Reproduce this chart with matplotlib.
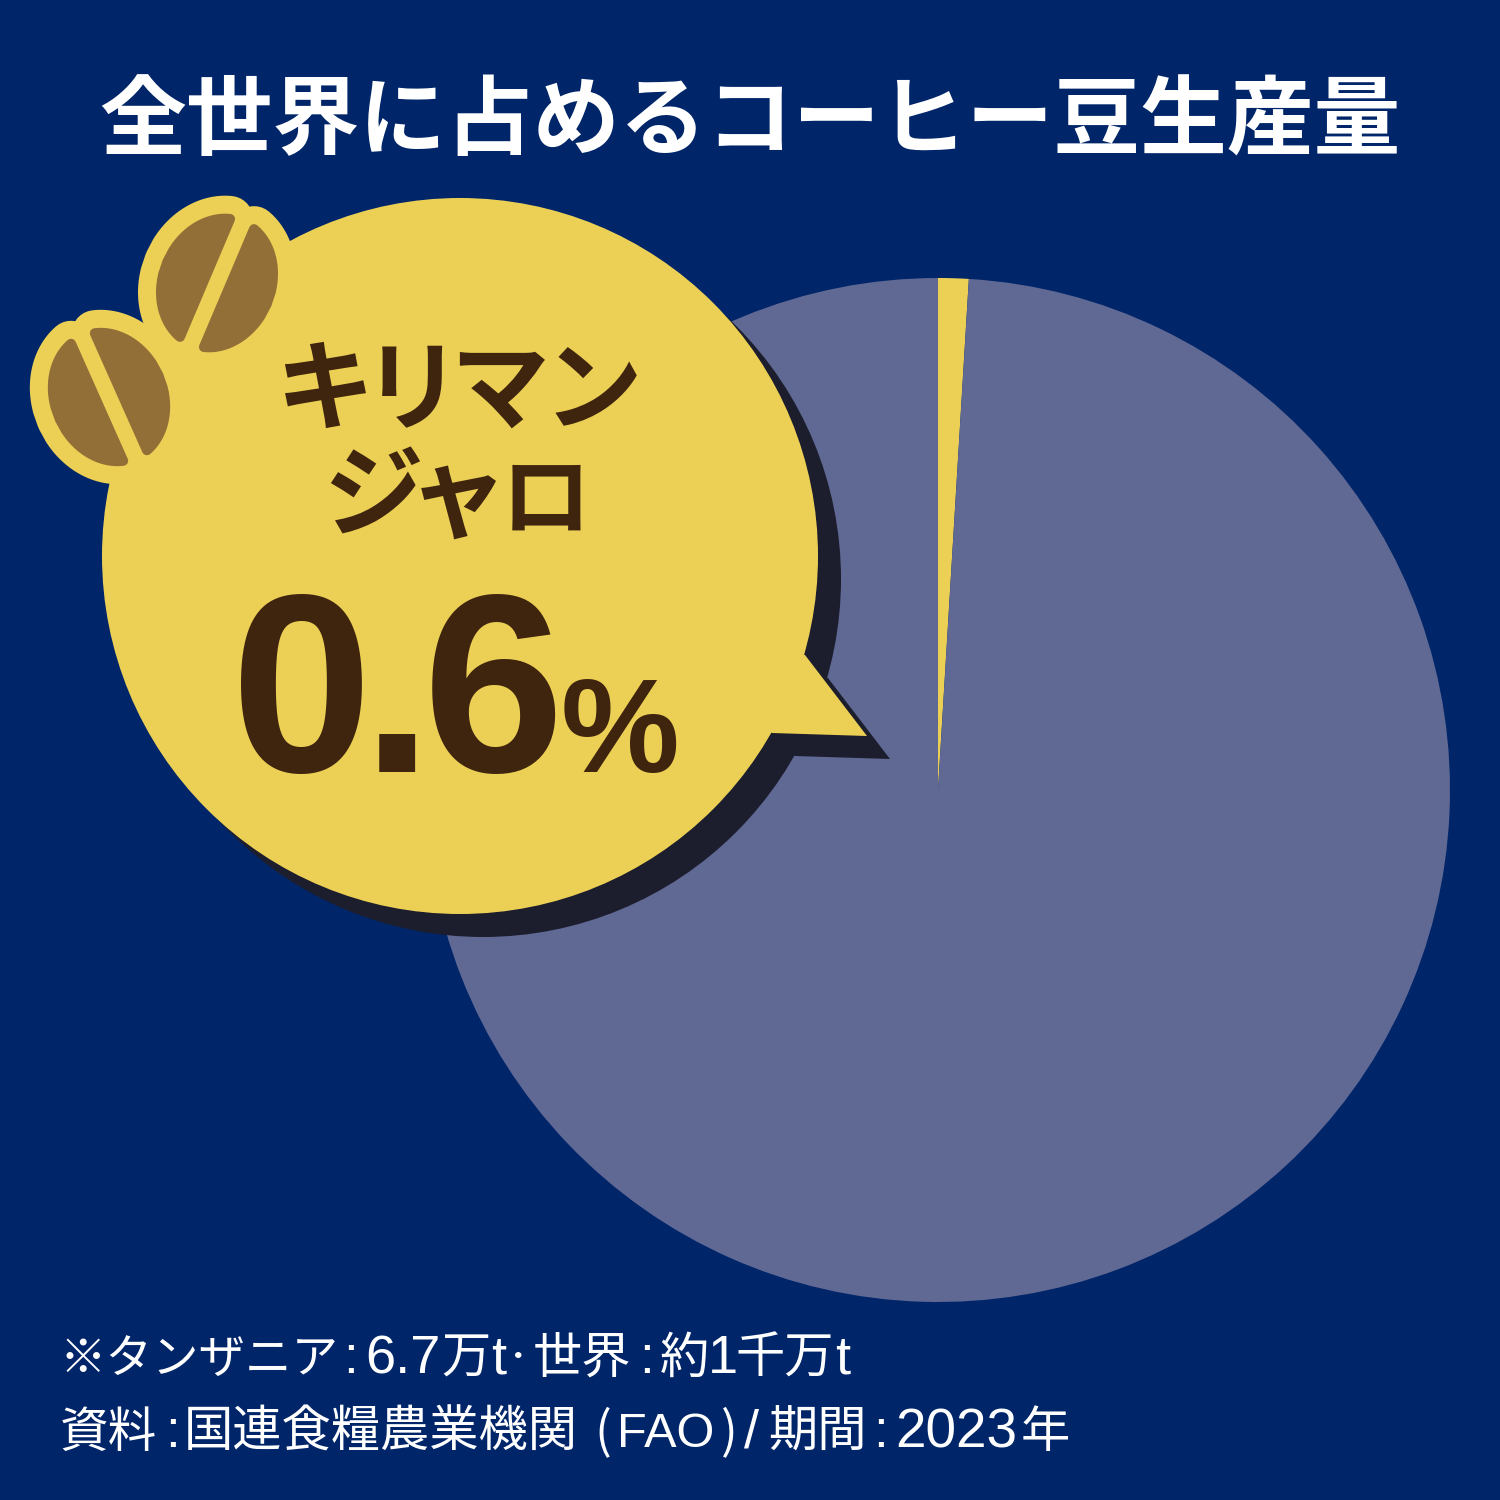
import numpy as np
import matplotlib
matplotlib.use("Agg")
import matplotlib.pyplot as plt
from matplotlib.patches import Circle, Polygon

plt.rcParams['font.family'] = ['Noto Sans CJK JP', 'DejaVu Sans']

BG = '#002569'
PIE_REST = '#606894'
YELLOW = '#ecd056'
SHADOW = '#1c1e2d'
TEXT_BROWN = '#40250e'
BEAN = '#936f38'
LATIN = 'Liberation Sans'
CJK = 'Noto Sans CJK JP'

# share of the circle as drawn in the picture, label says 0.6%
shares = [0.96, 99.04]
pie_colors = [YELLOW, PIE_REST]

title = '全世界に占めるコーヒー豆生産量'
# char, x centre, size
bubble_line1 = [('キ', 324, 71), ('リ', 412, 71), ('マ', 499, 71), ('ン', 593, 71)]
bubble_line2 = [('ジ', 373, 72), ('ャ', 458, 72), ('ロ', 546, 65)]
bubble_value = [('0', 302), ('.', 397), ('6', 493)]
bubble_unit = '%'

# text, x, font, size, anchor
note_line1 = [
    ('※タンザニア', 60, CJK, 33.5, 'left'), (':', 351, LATIN, 38, 'center'),
    ('6.7', 365, LATIN, 39, 'left'), ('万', 441, CJK, 35.5, 'left'), ('t', 491, LATIN, 39, 'left'),
    ('世界', 533, CJK, 35.5, 'left'), (':', 646, LATIN, 38, 'center'),
    ('約', 660, CJK, 35.5, 'left'), ('1', 708, LATIN, 39, 'left'), ('千万', 735, CJK, 35.5, 'left'),
    ('t', 835, LATIN, 39, 'left'),
]
note_dot = '・'
note_line2 = [
    ('資料', 60, CJK, 35, 'left'), (':', 172, LATIN, 38, 'center'),
    ('国連食糧農業機関', 184, CJK, 35.5, 'left'), ('(', 603, CJK, 36, 'center'),
    ('FAO', 617, LATIN, 35, 'left'), (')', 729, CJK, 36, 'center'), ('/', 752, LATIN, 39, 'center'),
    ('期間', 768, CJK, 35.5, 'left'), (':', 880, LATIN, 38, 'center'),
    ('2023', 895, LATIN, 39.5, 'left'), ('年', 1021, CJK, 35.5, 'left'),
]


def Y(py):
    return 1500 - py


def bubble(ax, dx, dy, color, z):
    # circle plus the tail towards the pie
    ax.add_patch(Circle((460 + dx, Y(556 + dy)), 358, fc=color, ec='none', zorder=z))
    tail = [(805 + dx, 655 + dy), (867 + dx, 736 + dy), (772 + dx, 733 + dy), (640 + dx, 600 + dy)]
    ax.add_patch(Polygon([(x, Y(y)) for x, y in tail], closed=True, fc=color, ec='none', zorder=z))


def bean(ax, cx, cy, tilt, z):
    # tilt in degrees, slit direction measured from vertical
    t = np.radians(tilt)
    ux, uy = np.sin(t), np.cos(t)
    vx, vy = np.cos(t), -np.sin(t)
    a, b = 71.0, 59.0
    r = 5.0
    gap = 8.0 + r

    for side in (1, -1):
        vs = np.linspace(gap, b - r, 40)
        us = (a - r) * np.sqrt(np.clip(1 - (vs / (b - r)) ** 2, 0, 1))
        half_u = np.concatenate([us, -us[::-1]])
        half_v = np.concatenate([vs, vs[::-1]]) * side
        pts = [(cx + u * ux + v * vx, Y(cy + u * uy + v * vy)) for u, v in zip(half_u, half_v)]
        # thick yellow stroke gives the outline with the small notches
        ax.add_patch(Polygon(pts, closed=True, fc=YELLOW, ec=YELLOW, lw=2 * (r + 18) * 0.72,
                             joinstyle='round', zorder=z))
        ax.add_patch(Polygon(pts, closed=True, fc=BEAN, ec=BEAN, lw=2 * r * 0.72,
                             joinstyle='round', zorder=z + 1))


fig = plt.figure(figsize=(15, 15), dpi=100, facecolor=BG)
ax = fig.add_axes([0, 0, 1, 1])

ax.pie(shares, colors=pie_colors, startangle=90, counterclock=False,
       center=(938, Y(790)), radius=512, frame=True,
       wedgeprops={'linewidth': 0})
ax.set_xlim(0, 1500)
ax.set_ylim(0, 1500)
ax.set_aspect('auto')
ax.axis('off')

bubble(ax, 23, 23, SHADOW, 3)
bubble(ax, 0, 0, YELLOW, 4)
bean(ax, 217, 283, -23, 5)
bean(ax, 109, 397, 24, 5)

ax.text(750, Y(148), title, color='white', fontsize=62.5, fontweight='bold',
        ha='center', va='baseline', zorder=10)
for ch, x, size in bubble_line1:
    ax.text(x, Y(422), ch, color=TEXT_BROWN, fontsize=size, fontweight='bold',
            ha='center', va='baseline', zorder=10)
for ch, x, size in bubble_line2:
    ax.text(x, Y(529), ch, color=TEXT_BROWN, fontsize=size, fontweight='bold',
            ha='center', va='baseline', zorder=10)
for ch, x in bubble_value:
    ax.text(x, Y(772), ch, color=TEXT_BROWN, fontsize=183, fontweight='bold',
            family=LATIN, ha='center', va='baseline', zorder=10)
ax.text(620, Y(772), bubble_unit, color=TEXT_BROWN, fontsize=96, fontweight='bold',
        family=LATIN, ha='center', va='baseline', zorder=10)

for line, base in ((note_line1, 1373), (note_line2, 1447)):
    for text, x, font, size, anchor in line:
        ax.text(x, Y(base), text, color='white', fontsize=size, family=font,
                ha=anchor, va='baseline', zorder=10)
ax.text(518, Y(1366), note_dot, color='white', fontsize=22, family=CJK,
        ha='center', va='baseline', zorder=10)

fig.savefig('out.png', dpi=100, facecolor=BG)
